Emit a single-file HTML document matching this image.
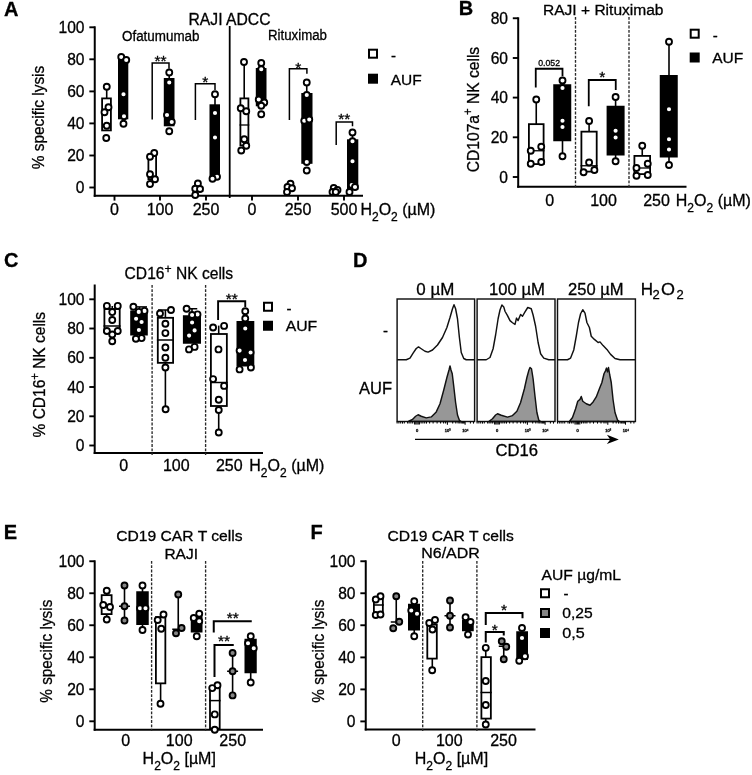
<!DOCTYPE html>
<html><head><meta charset="utf-8"><title>Figure</title>
<style>html,body{margin:0;padding:0;background:#fff}svg{display:block;filter:grayscale(1) blur(0.35px)}text{font-family:"Liberation Sans",sans-serif;fill:#000;stroke:#000;stroke-width:0.3px}</style>
</head><body>
<svg width="752" height="775" viewBox="0 0 752 775">
<rect x="0" y="0" width="752" height="775" fill="#fff"/>
<text x="3.9" y="15.5" font-size="20" text-anchor="start" font-weight="bold" >A</text>
<text x="229.5" y="25" font-size="16" text-anchor="middle" font-weight="normal" textLength="82" lengthAdjust="spacingAndGlyphs" >RAJI ADCC</text>
<text x="122" y="40.6" font-size="14" text-anchor="start" font-weight="normal" textLength="77.5" lengthAdjust="spacingAndGlyphs" >Ofatumumab</text>
<text x="268" y="40.4" font-size="14" text-anchor="start" font-weight="normal" textLength="59" lengthAdjust="spacingAndGlyphs" >Rituximab</text>
<line x1="94.75" y1="26.3" x2="94.75" y2="196.8" stroke="#000" stroke-width="2" stroke-linecap="butt"/>
<line x1="93.75" y1="195.8" x2="363" y2="195.8" stroke="#000" stroke-width="2" stroke-linecap="butt"/>
<line x1="89.35" y1="27.3" x2="94.75" y2="27.3" stroke="#000" stroke-width="1.9" stroke-linecap="butt"/>
<text x="84.55" y="32.8" font-size="15.6" text-anchor="end" font-weight="normal" >100</text>
<line x1="89.35" y1="59.3" x2="94.75" y2="59.3" stroke="#000" stroke-width="1.9" stroke-linecap="butt"/>
<text x="84.55" y="64.8" font-size="15.6" text-anchor="end" font-weight="normal" >80</text>
<line x1="89.35" y1="91.4" x2="94.75" y2="91.4" stroke="#000" stroke-width="1.9" stroke-linecap="butt"/>
<text x="84.55" y="96.9" font-size="15.6" text-anchor="end" font-weight="normal" >60</text>
<line x1="89.35" y1="123.4" x2="94.75" y2="123.4" stroke="#000" stroke-width="1.9" stroke-linecap="butt"/>
<text x="84.55" y="128.9" font-size="15.6" text-anchor="end" font-weight="normal" >40</text>
<line x1="89.35" y1="155.5" x2="94.75" y2="155.5" stroke="#000" stroke-width="1.9" stroke-linecap="butt"/>
<text x="84.55" y="161.0" font-size="15.6" text-anchor="end" font-weight="normal" >20</text>
<line x1="89.35" y1="187.5" x2="94.75" y2="187.5" stroke="#000" stroke-width="1.9" stroke-linecap="butt"/>
<text x="84.55" y="193.0" font-size="15.6" text-anchor="end" font-weight="normal" >0</text>
<line x1="114.5" y1="195.8" x2="114.5" y2="200.6" stroke="#000" stroke-width="1.9" stroke-linecap="butt"/>
<text x="114.5" y="215.1" font-size="16" text-anchor="middle" font-weight="normal" >0</text>
<line x1="160" y1="195.8" x2="160" y2="200.6" stroke="#000" stroke-width="1.9" stroke-linecap="butt"/>
<text x="160" y="215.1" font-size="16" text-anchor="middle" font-weight="normal" >100</text>
<line x1="206" y1="195.8" x2="206" y2="200.6" stroke="#000" stroke-width="1.9" stroke-linecap="butt"/>
<text x="206" y="215.1" font-size="16" text-anchor="middle" font-weight="normal" >250</text>
<line x1="252" y1="195.8" x2="252" y2="200.6" stroke="#000" stroke-width="1.9" stroke-linecap="butt"/>
<text x="252" y="215.1" font-size="16" text-anchor="middle" font-weight="normal" >0</text>
<line x1="298" y1="195.8" x2="298" y2="200.6" stroke="#000" stroke-width="1.9" stroke-linecap="butt"/>
<text x="298" y="215.1" font-size="16" text-anchor="middle" font-weight="normal" >250</text>
<line x1="344" y1="195.8" x2="344" y2="200.6" stroke="#000" stroke-width="1.9" stroke-linecap="butt"/>
<text x="344" y="215.1" font-size="16" text-anchor="middle" font-weight="normal" >500</text>
<line x1="229.7" y1="26" x2="229.7" y2="198" stroke="#000" stroke-width="1.8" stroke-linecap="butt"/>
<text transform="translate(43.5,117.5) rotate(-90)" font-size="17" text-anchor="middle" textLength="103.5" lengthAdjust="spacingAndGlyphs">% specific lysis</text>
<text x="360.4" y="215.2" font-size="16">H<tspan dy="5.5" font-size="12">2</tspan><tspan dy="-5.5">O</tspan><tspan dy="5.5" font-size="12">2</tspan><tspan dy="-5.5"> (µM)</tspan></text>
<rect x="369.0" y="49.7" width="8" height="8.0" fill="#fff" stroke="#000" stroke-width="2"/>
<rect x="369.0" y="74.7" width="8" height="8.0" fill="#000" stroke="#000" stroke-width="2"/>
<text x="391" y="61" font-size="15" text-anchor="start" font-weight="normal" >-</text>
<text x="390.7" y="84.5" font-size="15" text-anchor="start" font-weight="normal" textLength="31" lengthAdjust="spacingAndGlyphs" >AUF</text>
<line x1="106.7" y1="87" x2="106.7" y2="98" stroke="#000" stroke-width="1.6" stroke-linecap="butt"/>
<rect x="102.10000000000001" y="98.4" width="8.799999999999994" height="32.000000000000014" fill="#fff" stroke="#000" stroke-width="1.8"/>
<circle cx="106.75" cy="86.75" r="3.0" fill="#fff" stroke="#000" stroke-width="1.85"/>
<circle cx="108.5" cy="107.25" r="3.0" fill="#fff" stroke="#000" stroke-width="1.85"/>
<circle cx="104.5" cy="112.25" r="3.0" fill="#fff" stroke="#000" stroke-width="1.85"/>
<circle cx="106.75" cy="125.75" r="3.0" fill="#fff" stroke="#000" stroke-width="1.85"/>
<circle cx="106.25" cy="138" r="3.0" fill="#fff" stroke="#000" stroke-width="1.85"/>
<rect x="118.9" y="59.6" width="8.50000000000001" height="58.8" fill="#000" stroke="#000" stroke-width="1.8"/>
<circle cx="121.25" cy="57" r="3.0" fill="#fff" stroke="#000" stroke-width="1.85"/>
<circle cx="126.25" cy="60" r="3.0" fill="#fff" stroke="#000" stroke-width="1.85"/>
<circle cx="123.5" cy="94.25" r="3.0" fill="#fff" stroke="#000" stroke-width="1.85"/>
<circle cx="124" cy="116.25" r="3.0" fill="#fff" stroke="#000" stroke-width="1.85"/>
<circle cx="123.5" cy="123.75" r="3.0" fill="#fff" stroke="#000" stroke-width="1.85"/>
<rect x="148.4" y="155.9" width="7.7" height="23.2" fill="#fff" stroke="#000" stroke-width="1.8"/>
<circle cx="154.25" cy="153" r="3.0" fill="#fff" stroke="#000" stroke-width="1.85"/>
<circle cx="150" cy="156.75" r="3.0" fill="#fff" stroke="#000" stroke-width="1.85"/>
<circle cx="150" cy="174.25" r="3.0" fill="#fff" stroke="#000" stroke-width="1.85"/>
<circle cx="155" cy="179.25" r="3.0" fill="#fff" stroke="#000" stroke-width="1.85"/>
<circle cx="150" cy="184" r="3.0" fill="#fff" stroke="#000" stroke-width="1.85"/>
<line x1="169.2" y1="72.5" x2="169.2" y2="79" stroke="#000" stroke-width="1.6" stroke-linecap="butt"/>
<rect x="164.70000000000002" y="78.9" width="8.899999999999988" height="46.5" fill="#000" stroke="#000" stroke-width="1.8"/>
<circle cx="169.25" cy="72.5" r="3.0" fill="#fff" stroke="#000" stroke-width="1.85"/>
<circle cx="169.25" cy="82.5" r="3.0" fill="#fff" stroke="#000" stroke-width="1.85"/>
<circle cx="167" cy="115" r="3.0" fill="#fff" stroke="#000" stroke-width="1.85"/>
<circle cx="171.75" cy="122" r="3.0" fill="#fff" stroke="#000" stroke-width="1.85"/>
<circle cx="169.25" cy="131.25" r="3.0" fill="#fff" stroke="#000" stroke-width="1.85"/>
<polyline points="152.2,119.5 152.2,63.1 169,63.1 169,68.8" fill="none" stroke="#000" stroke-width="1.5" stroke-linejoin="miter"/>
<text x="160.6" y="66.2" font-size="15.5" text-anchor="middle" font-weight="normal" >**</text>
<rect x="194.70000000000002" y="187.4" width="7.7" height="3.7" fill="#fff" stroke="#000" stroke-width="1.8"/>
<circle cx="197.9" cy="183.5" r="3.0" fill="#fff" stroke="#000" stroke-width="1.85"/>
<circle cx="195.25" cy="188.75" r="3.0" fill="#fff" stroke="#000" stroke-width="1.85"/>
<circle cx="200" cy="189" r="3.0" fill="#fff" stroke="#000" stroke-width="1.85"/>
<circle cx="195.25" cy="195" r="3.0" fill="#fff" stroke="#000" stroke-width="1.85"/>
<line x1="215" y1="94.25" x2="215" y2="105" stroke="#000" stroke-width="1.6" stroke-linecap="butt"/>
<rect x="210.4" y="105.2" width="8.7" height="73.20000000000002" fill="#000" stroke="#000" stroke-width="1.8"/>
<circle cx="215" cy="94.25" r="3.0" fill="#fff" stroke="#000" stroke-width="1.85"/>
<circle cx="215" cy="113" r="3.0" fill="#fff" stroke="#000" stroke-width="1.85"/>
<circle cx="215" cy="137.5" r="3.0" fill="#fff" stroke="#000" stroke-width="1.85"/>
<circle cx="217" cy="176.75" r="3.0" fill="#fff" stroke="#000" stroke-width="1.85"/>
<circle cx="212.5" cy="178.75" r="3.0" fill="#fff" stroke="#000" stroke-width="1.85"/>
<polyline points="195.4,120 195.4,83.75 215,83.75 215,90" fill="none" stroke="#000" stroke-width="1.5" stroke-linejoin="miter"/>
<text x="205.2" y="87.1" font-size="15.5" text-anchor="middle" font-weight="normal" >*</text>
<line x1="244.2" y1="62.5" x2="244.2" y2="98" stroke="#000" stroke-width="1.6" stroke-linecap="butt"/>
<rect x="240.4" y="98.4" width="8.00000000000001" height="47.000000000000014" fill="#fff" stroke="#000" stroke-width="1.8"/>
<line x1="239.5" y1="125" x2="249.3" y2="125" stroke="#000" stroke-width="1.3" stroke-linecap="butt"/>
<circle cx="244" cy="62" r="3.0" fill="#fff" stroke="#000" stroke-width="1.85"/>
<circle cx="240.75" cy="108.25" r="3.0" fill="#fff" stroke="#000" stroke-width="1.85"/>
<circle cx="246.25" cy="111.25" r="3.0" fill="#fff" stroke="#000" stroke-width="1.85"/>
<circle cx="244.25" cy="139.25" r="3.0" fill="#fff" stroke="#000" stroke-width="1.85"/>
<circle cx="246.25" cy="145.75" r="3.0" fill="#fff" stroke="#000" stroke-width="1.85"/>
<circle cx="241.25" cy="150.5" r="3.0" fill="#fff" stroke="#000" stroke-width="1.85"/>
<line x1="261.2" y1="63" x2="261.2" y2="69" stroke="#000" stroke-width="1.6" stroke-linecap="butt"/>
<rect x="256.7" y="68.9" width="8.899999999999988" height="36.5" fill="#000" stroke="#000" stroke-width="1.8"/>
<circle cx="261.25" cy="63" r="3.0" fill="#fff" stroke="#000" stroke-width="1.85"/>
<circle cx="261.25" cy="69.25" r="3.0" fill="#fff" stroke="#000" stroke-width="1.85"/>
<circle cx="258.75" cy="99.5" r="3.0" fill="#fff" stroke="#000" stroke-width="1.85"/>
<circle cx="264.25" cy="102.5" r="3.0" fill="#fff" stroke="#000" stroke-width="1.85"/>
<circle cx="261.25" cy="105.75" r="3.0" fill="#fff" stroke="#000" stroke-width="1.85"/>
<circle cx="261.25" cy="114.25" r="3.0" fill="#fff" stroke="#000" stroke-width="1.85"/>
<circle cx="290.5" cy="183.75" r="3.0" fill="#fff" stroke="#000" stroke-width="1.85"/>
<circle cx="287.5" cy="187" r="3.0" fill="#fff" stroke="#000" stroke-width="1.85"/>
<circle cx="292" cy="188.25" r="3.0" fill="#fff" stroke="#000" stroke-width="1.85"/>
<circle cx="287" cy="192" r="3.0" fill="#fff" stroke="#000" stroke-width="1.85"/>
<line x1="306.75" y1="82.5" x2="306.75" y2="94" stroke="#000" stroke-width="1.6" stroke-linecap="butt"/>
<rect x="302.2" y="93.9" width="9.399999999999988" height="69.00000000000001" fill="#000" stroke="#000" stroke-width="1.8"/>
<circle cx="306.75" cy="82.5" r="3.0" fill="#fff" stroke="#000" stroke-width="1.85"/>
<circle cx="306.75" cy="95" r="3.0" fill="#fff" stroke="#000" stroke-width="1.85"/>
<circle cx="304.25" cy="120.75" r="3.0" fill="#fff" stroke="#000" stroke-width="1.85"/>
<circle cx="309.25" cy="119.5" r="3.0" fill="#fff" stroke="#000" stroke-width="1.85"/>
<circle cx="306.75" cy="162" r="3.0" fill="#fff" stroke="#000" stroke-width="1.85"/>
<circle cx="306.75" cy="170.5" r="3.0" fill="#fff" stroke="#000" stroke-width="1.85"/>
<polyline points="289.4,120 289.4,68.75 306.9,68.75 306.9,73.8" fill="none" stroke="#000" stroke-width="1.5" stroke-linejoin="miter"/>
<text x="298.15" y="72.8" font-size="15.5" text-anchor="middle" font-weight="normal" >*</text>
<circle cx="333.75" cy="188" r="3.0" fill="#fff" stroke="#000" stroke-width="1.85"/>
<circle cx="337.5" cy="190" r="3.0" fill="#fff" stroke="#000" stroke-width="1.85"/>
<circle cx="332.5" cy="192" r="3.0" fill="#fff" stroke="#000" stroke-width="1.85"/>
<circle cx="335.75" cy="192" r="3.0" fill="#fff" stroke="#000" stroke-width="1.85"/>
<line x1="352.5" y1="132.5" x2="352.5" y2="140" stroke="#000" stroke-width="1.6" stroke-linecap="butt"/>
<rect x="347.9" y="140.20000000000002" width="9.50000000000001" height="48.89999999999999" fill="#000" stroke="#000" stroke-width="1.8"/>
<circle cx="352.5" cy="132.5" r="3.0" fill="#fff" stroke="#000" stroke-width="1.85"/>
<circle cx="352.5" cy="141.25" r="3.0" fill="#fff" stroke="#000" stroke-width="1.85"/>
<circle cx="352.5" cy="161.25" r="3.0" fill="#fff" stroke="#000" stroke-width="1.85"/>
<circle cx="351.75" cy="185" r="3.0" fill="#fff" stroke="#000" stroke-width="1.85"/>
<circle cx="355" cy="187" r="3.0" fill="#fff" stroke="#000" stroke-width="1.85"/>
<circle cx="349.5" cy="192" r="3.0" fill="#fff" stroke="#000" stroke-width="1.85"/>
<polyline points="336.2,145 336.2,121.9 352.5,121.9 352.5,126.3" fill="none" stroke="#000" stroke-width="1.5" stroke-linejoin="miter"/>
<text x="344.35" y="123.7" font-size="15.5" text-anchor="middle" font-weight="normal" >**</text>
<text x="458.8" y="15.1" font-size="20" text-anchor="start" font-weight="bold" >B</text>
<text x="543" y="15.1" font-size="15.5" text-anchor="start" font-weight="normal" textLength="120.5" lengthAdjust="spacingAndGlyphs" >RAJI + Rituximab</text>
<line x1="518.2" y1="17.3" x2="518.2" y2="187.7" stroke="#000" stroke-width="2" stroke-linecap="butt"/>
<line x1="517.2" y1="186.75" x2="686.5" y2="186.75" stroke="#000" stroke-width="2" stroke-linecap="butt"/>
<line x1="512.8000000000001" y1="18.25" x2="518.2" y2="18.25" stroke="#000" stroke-width="1.9" stroke-linecap="butt"/>
<text x="508.00000000000006" y="23.75" font-size="15.6" text-anchor="end" font-weight="normal" >80</text>
<line x1="512.8000000000001" y1="58" x2="518.2" y2="58" stroke="#000" stroke-width="1.9" stroke-linecap="butt"/>
<text x="508.00000000000006" y="63.5" font-size="15.6" text-anchor="end" font-weight="normal" >60</text>
<line x1="512.8000000000001" y1="97.6" x2="518.2" y2="97.6" stroke="#000" stroke-width="1.9" stroke-linecap="butt"/>
<text x="508.00000000000006" y="103.1" font-size="15.6" text-anchor="end" font-weight="normal" >40</text>
<line x1="512.8000000000001" y1="137.3" x2="518.2" y2="137.3" stroke="#000" stroke-width="1.9" stroke-linecap="butt"/>
<text x="508.00000000000006" y="142.8" font-size="15.6" text-anchor="end" font-weight="normal" >20</text>
<line x1="512.8000000000001" y1="177" x2="518.2" y2="177" stroke="#000" stroke-width="1.9" stroke-linecap="butt"/>
<text x="508.00000000000006" y="182.5" font-size="15.6" text-anchor="end" font-weight="normal" >0</text>
<text x="549.6" y="206.3" font-size="16" text-anchor="middle" font-weight="normal" >0</text>
<text x="603.5" y="206.3" font-size="16" text-anchor="middle" font-weight="normal" >100</text>
<text x="656.5" y="206.3" font-size="16" text-anchor="middle" font-weight="normal" >250</text>
<text x="675.8" y="206.3" font-size="16">H<tspan dy="5.5" font-size="12">2</tspan><tspan dy="-5.5">O</tspan><tspan dy="5.5" font-size="12">2</tspan><tspan dy="-5.5"> (µM)</tspan></text>
<text transform="translate(478.75,109.5) rotate(-90) scale(0.945,1)" font-size="16.5" text-anchor="middle">CD107a<tspan dy="-6.5" font-size="12">+</tspan><tspan dy="6.5"> NK cells</tspan></text>
<line x1="575.5" y1="17" x2="575.5" y2="189" stroke="#2a2a2a" stroke-width="1.35" stroke-dasharray="2.8 1.5"/>
<line x1="629" y1="17" x2="629" y2="189" stroke="#2a2a2a" stroke-width="1.35" stroke-dasharray="2.8 1.5"/>
<rect x="690.7" y="29.7" width="8.0" height="8.000000000000004" fill="#fff" stroke="#000" stroke-width="2"/>
<rect x="690.7" y="53.5" width="8.0" height="8.0" fill="#000" stroke="#000" stroke-width="2"/>
<text x="712.7" y="40.5" font-size="15" text-anchor="start" font-weight="normal" >-</text>
<text x="712.2" y="62.7" font-size="15" text-anchor="start" font-weight="normal" textLength="31" lengthAdjust="spacingAndGlyphs" >AUF</text>
<line x1="536.25" y1="100" x2="536.25" y2="124" stroke="#000" stroke-width="1.6" stroke-linecap="butt"/>
<rect x="528.9" y="124.15" width="14.7" height="39.95" fill="#fff" stroke="#000" stroke-width="1.8"/>
<line x1="528" y1="150.75" x2="544.5" y2="150.75" stroke="#000" stroke-width="1.3" stroke-linecap="butt"/>
<circle cx="536.25" cy="99.5" r="3.0" fill="#fff" stroke="#000" stroke-width="1.85"/>
<circle cx="541.25" cy="146.75" r="3.0" fill="#fff" stroke="#000" stroke-width="1.85"/>
<circle cx="530.75" cy="150.75" r="3.0" fill="#fff" stroke="#000" stroke-width="1.85"/>
<circle cx="541.25" cy="162" r="3.0" fill="#fff" stroke="#000" stroke-width="1.85"/>
<circle cx="530.75" cy="163.75" r="3.0" fill="#fff" stroke="#000" stroke-width="1.85"/>
<line x1="562.5" y1="80.5" x2="562.5" y2="156.25" stroke="#000" stroke-width="1.6" stroke-linecap="butt"/>
<rect x="554.15" y="85.15" width="16.2" height="55.2" fill="#000" stroke="#000" stroke-width="1.8"/>
<circle cx="562.5" cy="80.5" r="3.0" fill="#fff" stroke="#000" stroke-width="1.85"/>
<circle cx="562.5" cy="88" r="3.0" fill="#fff" stroke="#000" stroke-width="1.85"/>
<circle cx="562.5" cy="120.75" r="3.0" fill="#fff" stroke="#000" stroke-width="1.85"/>
<circle cx="562.5" cy="127" r="3.0" fill="#fff" stroke="#000" stroke-width="1.85"/>
<circle cx="562.5" cy="156.25" r="3.0" fill="#fff" stroke="#000" stroke-width="1.85"/>
<polyline points="535.75,87.5 535.75,68.75 562.5,68.75 562.5,76.25" fill="none" stroke="#000" stroke-width="1.8" stroke-linejoin="miter"/>
<text x="549.125" y="65.5" font-size="8.7" text-anchor="middle" font-weight="normal" >0.052</text>
<line x1="589.1" y1="121" x2="589.1" y2="131" stroke="#000" stroke-width="1.6" stroke-linecap="butt"/>
<rect x="581.4" y="131.65" width="15.300000000000022" height="39.95" fill="#fff" stroke="#000" stroke-width="1.8"/>
<line x1="580.5" y1="165.75" x2="597.6" y2="165.75" stroke="#000" stroke-width="1.3" stroke-linecap="butt"/>
<circle cx="589.1" cy="121" r="3.0" fill="#fff" stroke="#000" stroke-width="1.85"/>
<circle cx="589.1" cy="162.5" r="3.0" fill="#fff" stroke="#000" stroke-width="1.85"/>
<circle cx="594.4" cy="170" r="3.0" fill="#fff" stroke="#000" stroke-width="1.85"/>
<circle cx="583.6" cy="172.2" r="3.0" fill="#fff" stroke="#000" stroke-width="1.85"/>
<line x1="615.6" y1="97" x2="615.6" y2="161.25" stroke="#000" stroke-width="1.6" stroke-linecap="butt"/>
<rect x="607.5" y="106.65" width="16.2" height="47.95" fill="#000" stroke="#000" stroke-width="1.8"/>
<circle cx="615.6" cy="97" r="3.0" fill="#fff" stroke="#000" stroke-width="1.85"/>
<circle cx="615.6" cy="130.75" r="3.0" fill="#fff" stroke="#000" stroke-width="1.85"/>
<circle cx="615.6" cy="137.5" r="3.0" fill="#fff" stroke="#000" stroke-width="1.85"/>
<circle cx="615.6" cy="161.25" r="3.0" fill="#fff" stroke="#000" stroke-width="1.85"/>
<polyline points="588.75,106.25 588.75,80 615.75,80 615.75,90" fill="none" stroke="#000" stroke-width="1.8" stroke-linejoin="miter"/>
<text x="602.25" y="82" font-size="15.5" text-anchor="middle" font-weight="normal" >*</text>
<line x1="642.25" y1="145.75" x2="642.25" y2="156" stroke="#000" stroke-width="1.6" stroke-linecap="butt"/>
<rect x="634.4" y="155.9" width="15.7" height="18.2" fill="#fff" stroke="#000" stroke-width="1.8"/>
<line x1="633.5" y1="168" x2="651" y2="168" stroke="#000" stroke-width="1.3" stroke-linecap="butt"/>
<circle cx="642.25" cy="145.75" r="3.0" fill="#fff" stroke="#000" stroke-width="1.85"/>
<circle cx="647.75" cy="163.75" r="3.0" fill="#fff" stroke="#000" stroke-width="1.85"/>
<circle cx="636.5" cy="168" r="3.0" fill="#fff" stroke="#000" stroke-width="1.85"/>
<circle cx="647.75" cy="175" r="3.0" fill="#fff" stroke="#000" stroke-width="1.85"/>
<circle cx="636.5" cy="175.75" r="3.0" fill="#fff" stroke="#000" stroke-width="1.85"/>
<line x1="669" y1="41.75" x2="669" y2="165" stroke="#000" stroke-width="1.6" stroke-linecap="butt"/>
<rect x="660.65" y="75.9" width="16.2" height="80.7" fill="#000" stroke="#000" stroke-width="1.8"/>
<circle cx="669" cy="41.75" r="3.0" fill="#fff" stroke="#000" stroke-width="1.85"/>
<circle cx="669" cy="109.25" r="3.0" fill="#fff" stroke="#000" stroke-width="1.85"/>
<circle cx="669" cy="139.25" r="3.0" fill="#fff" stroke="#000" stroke-width="1.85"/>
<circle cx="669" cy="149.5" r="3.0" fill="#fff" stroke="#000" stroke-width="1.85"/>
<circle cx="669" cy="165" r="3.0" fill="#fff" stroke="#000" stroke-width="1.85"/>
<text x="3.9" y="267.4" font-size="20" text-anchor="start" font-weight="bold" >C</text>
<text transform="translate(124.6,279.1) scale(0.975,1)" font-size="16">CD16<tspan dy="-6.3" font-size="12.5">+</tspan><tspan dy="6.3"> NK cells</tspan></text>
<line x1="94.7" y1="284.5" x2="94.7" y2="454" stroke="#000" stroke-width="2" stroke-linecap="butt"/>
<line x1="93.7" y1="453" x2="263" y2="453" stroke="#000" stroke-width="2" stroke-linecap="butt"/>
<line x1="89.3" y1="299.3" x2="94.7" y2="299.3" stroke="#000" stroke-width="1.9" stroke-linecap="butt"/>
<text x="84.5" y="304.8" font-size="15.6" text-anchor="end" font-weight="normal" >100</text>
<line x1="89.3" y1="328.5" x2="94.7" y2="328.5" stroke="#000" stroke-width="1.9" stroke-linecap="butt"/>
<text x="84.5" y="334.0" font-size="15.6" text-anchor="end" font-weight="normal" >80</text>
<line x1="89.3" y1="357.8" x2="94.7" y2="357.8" stroke="#000" stroke-width="1.9" stroke-linecap="butt"/>
<text x="84.5" y="363.3" font-size="15.6" text-anchor="end" font-weight="normal" >60</text>
<line x1="89.3" y1="387" x2="94.7" y2="387" stroke="#000" stroke-width="1.9" stroke-linecap="butt"/>
<text x="84.5" y="392.5" font-size="15.6" text-anchor="end" font-weight="normal" >40</text>
<line x1="89.3" y1="416.3" x2="94.7" y2="416.3" stroke="#000" stroke-width="1.9" stroke-linecap="butt"/>
<text x="84.5" y="421.8" font-size="15.6" text-anchor="end" font-weight="normal" >20</text>
<line x1="89.3" y1="445.5" x2="94.7" y2="445.5" stroke="#000" stroke-width="1.9" stroke-linecap="butt"/>
<text x="84.5" y="451.0" font-size="15.6" text-anchor="end" font-weight="normal" >0</text>
<text x="123.75" y="471.3" font-size="16" text-anchor="middle" font-weight="normal" >0</text>
<text x="176.25" y="471.3" font-size="16" text-anchor="middle" font-weight="normal" >100</text>
<text x="229.25" y="471.3" font-size="16" text-anchor="middle" font-weight="normal" >250</text>
<text x="249.3" y="471.3" font-size="16">H<tspan dy="5.5" font-size="12">2</tspan><tspan dy="-5.5">O</tspan><tspan dy="5.5" font-size="12">2</tspan><tspan dy="-5.5"> (µM)</tspan></text>
<text transform="translate(45,374.7) rotate(-90) scale(0.94,1)" font-size="16.5" text-anchor="middle">% CD16<tspan dy="-6.5" font-size="12">+</tspan><tspan dy="6.5"> NK cells</tspan></text>
<line x1="152.1" y1="285" x2="152.1" y2="455" stroke="#2a2a2a" stroke-width="1.35" stroke-dasharray="2.8 1.5"/>
<line x1="205.6" y1="285" x2="205.6" y2="455" stroke="#2a2a2a" stroke-width="1.35" stroke-dasharray="2.8 1.5"/>
<rect x="264.0" y="302.75" width="8" height="8.0" fill="#fff" stroke="#000" stroke-width="2"/>
<rect x="264.0" y="321.75" width="8" height="8.0" fill="#000" stroke="#000" stroke-width="2"/>
<text x="286.5" y="313.5" font-size="15" text-anchor="start" font-weight="normal" >-</text>
<text x="285.7" y="331.3" font-size="15" text-anchor="start" font-weight="normal" textLength="31.5" lengthAdjust="spacingAndGlyphs" >AUF</text>
<line x1="112.25" y1="306" x2="112.25" y2="309" stroke="#000" stroke-width="1.6" stroke-linecap="butt"/>
<line x1="112.25" y1="332" x2="112.25" y2="341" stroke="#000" stroke-width="1.6" stroke-linecap="butt"/>
<rect x="104.4" y="309.0" width="15.299999999999994" height="23.099999999999977" fill="#fff" stroke="#000" stroke-width="1.8"/>
<line x1="103.5" y1="326" x2="120.6" y2="326" stroke="#000" stroke-width="1.5" stroke-linecap="butt"/>
<circle cx="106.9" cy="305.9" r="3.0" fill="#fff" stroke="#000" stroke-width="1.85"/>
<circle cx="117.75" cy="305.9" r="3.0" fill="#fff" stroke="#000" stroke-width="1.85"/>
<circle cx="112.25" cy="312.1" r="3.0" fill="#fff" stroke="#000" stroke-width="1.85"/>
<circle cx="112.25" cy="320" r="3.0" fill="#fff" stroke="#000" stroke-width="1.85"/>
<circle cx="106.9" cy="331" r="3.0" fill="#fff" stroke="#000" stroke-width="1.85"/>
<circle cx="117.75" cy="331" r="3.0" fill="#fff" stroke="#000" stroke-width="1.85"/>
<circle cx="112.25" cy="334.5" r="3.0" fill="#fff" stroke="#000" stroke-width="1.85"/>
<circle cx="112.25" cy="341.25" r="3.0" fill="#fff" stroke="#000" stroke-width="1.85"/>
<line x1="139.5" y1="306.9" x2="139.5" y2="311" stroke="#000" stroke-width="1.6" stroke-linecap="butt"/>
<line x1="137" y1="306.9" x2="147" y2="306.9" stroke="#000" stroke-width="1.5" stroke-linecap="butt"/>
<rect x="131.1" y="311.4" width="15.800000000000022" height="23.2" fill="#000" stroke="#000" stroke-width="1.8"/>
<circle cx="133.4" cy="306.75" r="3.0" fill="#fff" stroke="#000" stroke-width="1.85"/>
<circle cx="144.5" cy="310.9" r="3.0" fill="#fff" stroke="#000" stroke-width="1.85"/>
<circle cx="138.75" cy="311.9" r="3.0" fill="#fff" stroke="#000" stroke-width="1.85"/>
<circle cx="136.1" cy="318.75" r="3.0" fill="#fff" stroke="#000" stroke-width="1.85"/>
<circle cx="141.6" cy="322" r="3.0" fill="#fff" stroke="#000" stroke-width="1.85"/>
<circle cx="138.9" cy="330" r="3.0" fill="#fff" stroke="#000" stroke-width="1.85"/>
<circle cx="141.6" cy="338.1" r="3.0" fill="#fff" stroke="#000" stroke-width="1.85"/>
<circle cx="135.9" cy="338.75" r="3.0" fill="#fff" stroke="#000" stroke-width="1.85"/>
<line x1="165.4" y1="310" x2="165.4" y2="317" stroke="#000" stroke-width="1.6" stroke-linecap="butt"/>
<line x1="165.4" y1="363" x2="165.4" y2="409.25" stroke="#000" stroke-width="1.6" stroke-linecap="butt"/>
<line x1="158" y1="310" x2="171" y2="310" stroke="#000" stroke-width="1.5" stroke-linecap="butt"/>
<rect x="157.8" y="317.79999999999995" width="15.299999999999994" height="45.050000000000026" fill="#fff" stroke="#000" stroke-width="1.8"/>
<line x1="156.9" y1="340" x2="174" y2="340" stroke="#000" stroke-width="1.5" stroke-linecap="butt"/>
<circle cx="171" cy="310" r="3.0" fill="#fff" stroke="#000" stroke-width="1.85"/>
<circle cx="160" cy="313.5" r="3.0" fill="#fff" stroke="#000" stroke-width="1.85"/>
<circle cx="165.4" cy="323.75" r="3.0" fill="#fff" stroke="#000" stroke-width="1.85"/>
<circle cx="165.4" cy="333.1" r="3.0" fill="#fff" stroke="#000" stroke-width="1.85"/>
<circle cx="165.4" cy="347.5" r="3.0" fill="#fff" stroke="#000" stroke-width="1.85"/>
<circle cx="165.4" cy="357.75" r="3.0" fill="#fff" stroke="#000" stroke-width="1.85"/>
<circle cx="165.4" cy="367.5" r="3.0" fill="#fff" stroke="#000" stroke-width="1.85"/>
<circle cx="165.6" cy="409.25" r="3.0" fill="#fff" stroke="#000" stroke-width="1.85"/>
<line x1="192" y1="308.75" x2="192" y2="316" stroke="#000" stroke-width="1.6" stroke-linecap="butt"/>
<line x1="187" y1="308.75" x2="197.25" y2="308.75" stroke="#000" stroke-width="1.5" stroke-linecap="butt"/>
<rect x="183.8" y="316.15" width="16.299999999999994" height="26.7" fill="#000" stroke="#000" stroke-width="1.8"/>
<circle cx="186.6" cy="308.75" r="3.0" fill="#fff" stroke="#000" stroke-width="1.85"/>
<circle cx="197.5" cy="314.4" r="3.0" fill="#fff" stroke="#000" stroke-width="1.85"/>
<circle cx="192.1" cy="315" r="3.0" fill="#fff" stroke="#000" stroke-width="1.85"/>
<circle cx="192.1" cy="322.5" r="3.0" fill="#fff" stroke="#000" stroke-width="1.85"/>
<circle cx="194.6" cy="330.4" r="3.0" fill="#fff" stroke="#000" stroke-width="1.85"/>
<circle cx="189.1" cy="335.6" r="3.0" fill="#fff" stroke="#000" stroke-width="1.85"/>
<circle cx="194.6" cy="346.9" r="3.0" fill="#fff" stroke="#000" stroke-width="1.85"/>
<circle cx="189" cy="349.4" r="3.0" fill="#fff" stroke="#000" stroke-width="1.85"/>
<line x1="218.7" y1="325.6" x2="218.7" y2="334" stroke="#000" stroke-width="1.6" stroke-linecap="butt"/>
<line x1="218.7" y1="406" x2="218.7" y2="432.5" stroke="#000" stroke-width="1.6" stroke-linecap="butt"/>
<rect x="210.9" y="334.0" width="15.95" height="71.99999999999996" fill="#fff" stroke="#000" stroke-width="1.8"/>
<line x1="210" y1="382.5" x2="227.75" y2="382.5" stroke="#000" stroke-width="1.5" stroke-linecap="butt"/>
<circle cx="213.1" cy="327.5" r="3.0" fill="#fff" stroke="#000" stroke-width="1.85"/>
<circle cx="224.1" cy="325.9" r="3.0" fill="#fff" stroke="#000" stroke-width="1.85"/>
<circle cx="218.5" cy="349.4" r="3.0" fill="#fff" stroke="#000" stroke-width="1.85"/>
<circle cx="213.1" cy="379.1" r="3.0" fill="#fff" stroke="#000" stroke-width="1.85"/>
<circle cx="224.1" cy="385.9" r="3.0" fill="#fff" stroke="#000" stroke-width="1.85"/>
<circle cx="218.75" cy="399.75" r="3.0" fill="#fff" stroke="#000" stroke-width="1.85"/>
<circle cx="218.75" cy="410" r="3.0" fill="#fff" stroke="#000" stroke-width="1.85"/>
<circle cx="218.75" cy="432.5" r="3.0" fill="#fff" stroke="#000" stroke-width="1.85"/>
<rect x="237.4" y="321.9" width="16.00000000000001" height="43.7" fill="#000" stroke="#000" stroke-width="1.8"/>
<circle cx="245.25" cy="311.25" r="3.0" fill="#fff" stroke="#000" stroke-width="1.85"/>
<circle cx="245.25" cy="318.5" r="3.0" fill="#fff" stroke="#000" stroke-width="1.85"/>
<circle cx="245.25" cy="328.5" r="3.0" fill="#fff" stroke="#000" stroke-width="1.85"/>
<circle cx="239.6" cy="350.6" r="3.0" fill="#fff" stroke="#000" stroke-width="1.85"/>
<circle cx="250.6" cy="352.5" r="3.0" fill="#fff" stroke="#000" stroke-width="1.85"/>
<circle cx="245" cy="360" r="3.0" fill="#fff" stroke="#000" stroke-width="1.85"/>
<circle cx="239.6" cy="369.4" r="3.0" fill="#fff" stroke="#000" stroke-width="1.85"/>
<circle cx="250.9" cy="367.5" r="3.0" fill="#fff" stroke="#000" stroke-width="1.85"/>
<polyline points="218.1,320 218.1,301.25 245.25,301.25 245.25,307" fill="none" stroke="#000" stroke-width="1.9" stroke-linejoin="miter"/>
<text x="231.675" y="304" font-size="15.5" text-anchor="middle" font-weight="normal" >**</text>
<text x="353.1" y="267.4" font-size="20" text-anchor="start" font-weight="bold" >D</text>
<text x="416.3" y="294.5" font-size="16.3" text-anchor="start" font-weight="normal" textLength="38" lengthAdjust="spacingAndGlyphs" >0 µM</text>
<text x="489" y="294.5" font-size="16.3" text-anchor="start" font-weight="normal" textLength="56" lengthAdjust="spacingAndGlyphs" >100 µM</text>
<text x="568" y="294.5" font-size="16.3" text-anchor="start" font-weight="normal" textLength="55.5" lengthAdjust="spacingAndGlyphs" >250 µM</text>
<text x="640.7" y="294.5" font-size="17" text-anchor="start" font-weight="normal" >H</text>
<text x="652.6" y="298.9" font-size="13" text-anchor="start" font-weight="normal" >2</text>
<text x="661" y="294.5" font-size="17" text-anchor="start" font-weight="normal" textLength="14" lengthAdjust="spacingAndGlyphs" >O</text>
<text x="676.6" y="298.9" font-size="13" text-anchor="start" font-weight="normal" >2</text>
<text x="383" y="335.5" font-size="15" text-anchor="start" font-weight="normal" >-</text>
<text x="359" y="394.3" font-size="16.3" text-anchor="start" font-weight="normal" textLength="33" lengthAdjust="spacingAndGlyphs" >AUF</text>
<text x="495.5" y="456.3" font-size="16" text-anchor="start" font-weight="normal" textLength="42.5" lengthAdjust="spacingAndGlyphs" >CD16</text>
<line x1="415" y1="439.4" x2="612" y2="439.4" stroke="#000" stroke-width="1.4" stroke-linecap="butt"/>
<polygon points="618.8,439.4 606.9,434.8 610.2,439.4 606.9,444" fill="#000"/>
<polygon points="408.75,421.25 412.50,419.40 415.60,416.25 418.10,414.75 421.25,416.25 426.25,417.90 431.25,416.90 436.25,411.90 440.00,403.75 443.75,390.00 446.90,377.50 449.00,370.00 450.00,366.00 451.00,370.00 452.25,373.75 453.75,386.25 455.60,402.50 457.50,415.00 459.40,420.25 461.25,421.50" fill="#979797" stroke="#111" stroke-width="1.45" stroke-linejoin="round"/>
<polyline points="397.10,359.75 406.25,359.75 410.00,358.10 413.10,353.10 416.25,348.50 418.50,346.90 421.25,348.75 425.00,351.25 428.10,352.10 432.50,350.00 437.50,345.00 442.50,337.50 446.90,327.50 450.00,317.50 452.50,308.75 454.00,304.75 455.60,308.75 457.50,318.75 459.40,337.50 461.25,352.50 463.75,358.50 466.25,359.75 474.40,359.75" fill="none" stroke="#111" stroke-width="1.45" stroke-linejoin="round"/>
<rect x="397.1" y="299" width="77.5" height="122.5" fill="none" stroke="#111" stroke-width="1.45"/>
<line x1="397.1" y1="421.5" x2="397.1" y2="423.6" stroke="#000" stroke-width="1.05"/>
<line x1="398.9" y1="421.5" x2="398.9" y2="423.6" stroke="#000" stroke-width="1.05"/>
<line x1="400.7" y1="421.5" x2="400.7" y2="423.6" stroke="#000" stroke-width="1.05"/>
<line x1="402.5" y1="421.5" x2="402.5" y2="423.6" stroke="#000" stroke-width="1.05"/>
<line x1="404.3" y1="421.5" x2="404.3" y2="423.6" stroke="#000" stroke-width="1.05"/>
<line x1="407.6" y1="421.5" x2="407.6" y2="423.6" stroke="#000" stroke-width="1.05"/>
<line x1="409.1" y1="421.5" x2="409.1" y2="423.6" stroke="#000" stroke-width="1.05"/>
<line x1="410.9" y1="421.5" x2="410.9" y2="423.6" stroke="#000" stroke-width="1.05"/>
<line x1="412.7" y1="421.5" x2="412.7" y2="423.6" stroke="#000" stroke-width="1.05"/>
<line x1="414.6" y1="421.5" x2="414.6" y2="424.5" stroke="#000" stroke-width="1.05"/>
<line x1="415.8" y1="421.5" x2="415.8" y2="424.5" stroke="#000" stroke-width="1.05"/>
<line x1="417.0" y1="421.5" x2="417.0" y2="424.5" stroke="#000" stroke-width="1.05"/>
<line x1="418.2" y1="421.5" x2="418.2" y2="424.5" stroke="#000" stroke-width="1.05"/>
<line x1="419.4" y1="421.5" x2="419.4" y2="424.5" stroke="#000" stroke-width="1.05"/>
<line x1="421.1" y1="421.5" x2="421.1" y2="423.6" stroke="#000" stroke-width="1.05"/>
<line x1="422.9" y1="421.5" x2="422.9" y2="423.6" stroke="#000" stroke-width="1.05"/>
<line x1="424.7" y1="421.5" x2="424.7" y2="423.6" stroke="#000" stroke-width="1.05"/>
<line x1="426.5" y1="421.5" x2="426.5" y2="423.6" stroke="#000" stroke-width="1.05"/>
<line x1="429.6" y1="421.5" x2="429.6" y2="423.6" stroke="#000" stroke-width="1.05"/>
<line x1="433.1" y1="421.5" x2="433.1" y2="423.6" stroke="#000" stroke-width="1.05"/>
<line x1="437.1" y1="421.5" x2="437.1" y2="423.6" stroke="#000" stroke-width="1.05"/>
<line x1="440.6" y1="421.5" x2="440.6" y2="423.6" stroke="#000" stroke-width="1.05"/>
<line x1="443.6" y1="421.5" x2="443.6" y2="423.6" stroke="#000" stroke-width="1.05"/>
<line x1="445.6" y1="421.5" x2="445.6" y2="423.6" stroke="#000" stroke-width="1.05"/>
<line x1="447.4" y1="421.5" x2="447.4" y2="424.7" stroke="#000" stroke-width="1.05"/>
<line x1="452.7" y1="421.5" x2="452.7" y2="423.6" stroke="#000" stroke-width="1.05"/>
<line x1="455.8" y1="421.5" x2="455.8" y2="423.6" stroke="#000" stroke-width="1.05"/>
<line x1="458.1" y1="421.5" x2="458.1" y2="423.6" stroke="#000" stroke-width="1.05"/>
<line x1="459.8" y1="421.5" x2="459.8" y2="423.6" stroke="#000" stroke-width="1.05"/>
<line x1="461.2" y1="421.5" x2="461.2" y2="423.6" stroke="#000" stroke-width="1.05"/>
<line x1="462.4" y1="421.5" x2="462.4" y2="423.6" stroke="#000" stroke-width="1.05"/>
<line x1="463.4" y1="421.5" x2="463.4" y2="423.6" stroke="#000" stroke-width="1.05"/>
<line x1="464.3" y1="421.5" x2="464.3" y2="423.6" stroke="#000" stroke-width="1.05"/>
<line x1="465.1" y1="421.5" x2="465.1" y2="424.7" stroke="#000" stroke-width="1.05"/>
<line x1="470.4" y1="421.5" x2="470.4" y2="423.6" stroke="#000" stroke-width="1.05"/>
<line x1="473.5" y1="421.5" x2="473.5" y2="423.6" stroke="#000" stroke-width="1.05"/>
<text x="417.1" y="431.8" font-size="4" text-anchor="middle" style="stroke-width:0.5px;stroke:#222;fill:#222">0</text>
<text x="447.70000000000005" y="431.8" font-size="4" text-anchor="middle" style="stroke-width:0.5px;stroke:#222;fill:#222">10³</text>
<text x="465.40000000000003" y="431.8" font-size="4" text-anchor="middle" style="stroke-width:0.5px;stroke:#222;fill:#222">10⁴</text>
<polygon points="488.75,421.50 492.50,418.75 495.60,415.00 497.50,413.75 501.25,415.25 507.50,417.10 512.50,415.60 516.90,411.25 520.60,402.50 524.40,388.75 526.90,377.50 528.75,370.60 530.00,367.50 531.50,368.75 533.10,378.75 535.00,396.25 536.90,412.50 538.75,420.00 540.60,421.50" fill="#979797" stroke="#111" stroke-width="1.45" stroke-linejoin="round"/>
<polyline points="477.10,359.75 486.25,359.75 490.00,357.50 493.10,348.75 495.60,335.00 498.10,318.75 500.00,310.00 501.90,305.00 503.75,306.90 505.00,311.25 507.50,315.60 510.00,320.60 512.50,322.75 515.00,324.40 516.50,318.10 518.10,320.60 520.60,314.40 522.50,316.25 525.00,311.90 527.75,307.50 531.25,308.75 533.10,315.00 535.60,326.25 538.10,342.50 540.60,353.75 543.75,358.10 548.75,359.75 555.00,359.75" fill="none" stroke="#111" stroke-width="1.45" stroke-linejoin="round"/>
<rect x="477.1" y="299" width="77.89999999999998" height="122.5" fill="none" stroke="#111" stroke-width="1.45"/>
<line x1="477.1" y1="421.5" x2="477.1" y2="423.6" stroke="#000" stroke-width="1.05"/>
<line x1="478.9" y1="421.5" x2="478.9" y2="423.6" stroke="#000" stroke-width="1.05"/>
<line x1="480.7" y1="421.5" x2="480.7" y2="423.6" stroke="#000" stroke-width="1.05"/>
<line x1="482.5" y1="421.5" x2="482.5" y2="423.6" stroke="#000" stroke-width="1.05"/>
<line x1="484.3" y1="421.5" x2="484.3" y2="423.6" stroke="#000" stroke-width="1.05"/>
<line x1="487.6" y1="421.5" x2="487.6" y2="423.6" stroke="#000" stroke-width="1.05"/>
<line x1="489.1" y1="421.5" x2="489.1" y2="423.6" stroke="#000" stroke-width="1.05"/>
<line x1="490.9" y1="421.5" x2="490.9" y2="423.6" stroke="#000" stroke-width="1.05"/>
<line x1="492.7" y1="421.5" x2="492.7" y2="423.6" stroke="#000" stroke-width="1.05"/>
<line x1="494.6" y1="421.5" x2="494.6" y2="424.5" stroke="#000" stroke-width="1.05"/>
<line x1="495.8" y1="421.5" x2="495.8" y2="424.5" stroke="#000" stroke-width="1.05"/>
<line x1="497.0" y1="421.5" x2="497.0" y2="424.5" stroke="#000" stroke-width="1.05"/>
<line x1="498.2" y1="421.5" x2="498.2" y2="424.5" stroke="#000" stroke-width="1.05"/>
<line x1="499.4" y1="421.5" x2="499.4" y2="424.5" stroke="#000" stroke-width="1.05"/>
<line x1="501.1" y1="421.5" x2="501.1" y2="423.6" stroke="#000" stroke-width="1.05"/>
<line x1="502.9" y1="421.5" x2="502.9" y2="423.6" stroke="#000" stroke-width="1.05"/>
<line x1="504.7" y1="421.5" x2="504.7" y2="423.6" stroke="#000" stroke-width="1.05"/>
<line x1="506.5" y1="421.5" x2="506.5" y2="423.6" stroke="#000" stroke-width="1.05"/>
<line x1="509.6" y1="421.5" x2="509.6" y2="423.6" stroke="#000" stroke-width="1.05"/>
<line x1="513.1" y1="421.5" x2="513.1" y2="423.6" stroke="#000" stroke-width="1.05"/>
<line x1="517.1" y1="421.5" x2="517.1" y2="423.6" stroke="#000" stroke-width="1.05"/>
<line x1="520.6" y1="421.5" x2="520.6" y2="423.6" stroke="#000" stroke-width="1.05"/>
<line x1="523.6" y1="421.5" x2="523.6" y2="423.6" stroke="#000" stroke-width="1.05"/>
<line x1="525.6" y1="421.5" x2="525.6" y2="423.6" stroke="#000" stroke-width="1.05"/>
<line x1="527.4" y1="421.5" x2="527.4" y2="424.7" stroke="#000" stroke-width="1.05"/>
<line x1="532.7" y1="421.5" x2="532.7" y2="423.6" stroke="#000" stroke-width="1.05"/>
<line x1="535.8" y1="421.5" x2="535.8" y2="423.6" stroke="#000" stroke-width="1.05"/>
<line x1="538.1" y1="421.5" x2="538.1" y2="423.6" stroke="#000" stroke-width="1.05"/>
<line x1="539.8" y1="421.5" x2="539.8" y2="423.6" stroke="#000" stroke-width="1.05"/>
<line x1="541.2" y1="421.5" x2="541.2" y2="423.6" stroke="#000" stroke-width="1.05"/>
<line x1="542.4" y1="421.5" x2="542.4" y2="423.6" stroke="#000" stroke-width="1.05"/>
<line x1="543.4" y1="421.5" x2="543.4" y2="423.6" stroke="#000" stroke-width="1.05"/>
<line x1="544.3" y1="421.5" x2="544.3" y2="423.6" stroke="#000" stroke-width="1.05"/>
<line x1="545.1" y1="421.5" x2="545.1" y2="424.7" stroke="#000" stroke-width="1.05"/>
<line x1="550.4" y1="421.5" x2="550.4" y2="423.6" stroke="#000" stroke-width="1.05"/>
<line x1="553.5" y1="421.5" x2="553.5" y2="423.6" stroke="#000" stroke-width="1.05"/>
<text x="497.1" y="431.8" font-size="4" text-anchor="middle" style="stroke-width:0.5px;stroke:#222;fill:#222">0</text>
<text x="527.7" y="431.8" font-size="4" text-anchor="middle" style="stroke-width:0.5px;stroke:#222;fill:#222">10³</text>
<text x="545.4" y="431.8" font-size="4" text-anchor="middle" style="stroke-width:0.5px;stroke:#222;fill:#222">10⁴</text>
<polygon points="569.40,421.50 572.50,417.50 575.60,408.75 577.75,401.25 580.00,399.40 581.25,396.50 582.75,401.25 586.25,403.75 590.00,405.25 593.10,401.90 596.25,396.90 599.40,388.75 601.90,382.50 604.00,373.75 605.60,370.60 606.50,368.10 607.50,371.90 608.50,367.50 609.75,375.00 611.25,382.50 613.10,400.00 615.00,412.50 617.50,420.00 619.40,421.50" fill="#979797" stroke="#111" stroke-width="1.45" stroke-linejoin="round"/>
<polyline points="557.50,359.75 567.50,359.75 570.60,358.10 573.75,350.00 576.25,336.25 578.50,322.50 580.60,313.75 582.75,309.75 585.00,313.10 586.90,322.50 589.40,327.50 591.25,336.25 594.40,339.40 598.10,342.50 600.00,341.90 603.10,345.60 606.90,349.40 610.60,354.40 615.00,358.50 620.00,359.75 635.40,359.75" fill="none" stroke="#111" stroke-width="1.45" stroke-linejoin="round"/>
<rect x="557.5" y="299" width="77.89999999999998" height="122.5" fill="none" stroke="#111" stroke-width="1.45"/>
<line x1="557.5" y1="421.5" x2="557.5" y2="423.6" stroke="#000" stroke-width="1.05"/>
<line x1="559.3" y1="421.5" x2="559.3" y2="423.6" stroke="#000" stroke-width="1.05"/>
<line x1="561.1" y1="421.5" x2="561.1" y2="423.6" stroke="#000" stroke-width="1.05"/>
<line x1="562.9" y1="421.5" x2="562.9" y2="423.6" stroke="#000" stroke-width="1.05"/>
<line x1="564.7" y1="421.5" x2="564.7" y2="423.6" stroke="#000" stroke-width="1.05"/>
<line x1="568.0" y1="421.5" x2="568.0" y2="423.6" stroke="#000" stroke-width="1.05"/>
<line x1="569.5" y1="421.5" x2="569.5" y2="423.6" stroke="#000" stroke-width="1.05"/>
<line x1="571.3" y1="421.5" x2="571.3" y2="423.6" stroke="#000" stroke-width="1.05"/>
<line x1="573.1" y1="421.5" x2="573.1" y2="423.6" stroke="#000" stroke-width="1.05"/>
<line x1="575.0" y1="421.5" x2="575.0" y2="424.5" stroke="#000" stroke-width="1.05"/>
<line x1="576.2" y1="421.5" x2="576.2" y2="424.5" stroke="#000" stroke-width="1.05"/>
<line x1="577.4" y1="421.5" x2="577.4" y2="424.5" stroke="#000" stroke-width="1.05"/>
<line x1="578.6" y1="421.5" x2="578.6" y2="424.5" stroke="#000" stroke-width="1.05"/>
<line x1="579.8" y1="421.5" x2="579.8" y2="424.5" stroke="#000" stroke-width="1.05"/>
<line x1="581.5" y1="421.5" x2="581.5" y2="423.6" stroke="#000" stroke-width="1.05"/>
<line x1="583.3" y1="421.5" x2="583.3" y2="423.6" stroke="#000" stroke-width="1.05"/>
<line x1="585.1" y1="421.5" x2="585.1" y2="423.6" stroke="#000" stroke-width="1.05"/>
<line x1="586.9" y1="421.5" x2="586.9" y2="423.6" stroke="#000" stroke-width="1.05"/>
<line x1="590.0" y1="421.5" x2="590.0" y2="423.6" stroke="#000" stroke-width="1.05"/>
<line x1="593.5" y1="421.5" x2="593.5" y2="423.6" stroke="#000" stroke-width="1.05"/>
<line x1="597.5" y1="421.5" x2="597.5" y2="423.6" stroke="#000" stroke-width="1.05"/>
<line x1="601.0" y1="421.5" x2="601.0" y2="423.6" stroke="#000" stroke-width="1.05"/>
<line x1="604.0" y1="421.5" x2="604.0" y2="423.6" stroke="#000" stroke-width="1.05"/>
<line x1="606.0" y1="421.5" x2="606.0" y2="423.6" stroke="#000" stroke-width="1.05"/>
<line x1="607.8" y1="421.5" x2="607.8" y2="424.7" stroke="#000" stroke-width="1.05"/>
<line x1="613.1" y1="421.5" x2="613.1" y2="423.6" stroke="#000" stroke-width="1.05"/>
<line x1="616.2" y1="421.5" x2="616.2" y2="423.6" stroke="#000" stroke-width="1.05"/>
<line x1="618.5" y1="421.5" x2="618.5" y2="423.6" stroke="#000" stroke-width="1.05"/>
<line x1="620.2" y1="421.5" x2="620.2" y2="423.6" stroke="#000" stroke-width="1.05"/>
<line x1="621.6" y1="421.5" x2="621.6" y2="423.6" stroke="#000" stroke-width="1.05"/>
<line x1="622.8" y1="421.5" x2="622.8" y2="423.6" stroke="#000" stroke-width="1.05"/>
<line x1="623.8" y1="421.5" x2="623.8" y2="423.6" stroke="#000" stroke-width="1.05"/>
<line x1="624.7" y1="421.5" x2="624.7" y2="423.6" stroke="#000" stroke-width="1.05"/>
<line x1="625.5" y1="421.5" x2="625.5" y2="424.7" stroke="#000" stroke-width="1.05"/>
<line x1="630.8" y1="421.5" x2="630.8" y2="423.6" stroke="#000" stroke-width="1.05"/>
<line x1="633.9" y1="421.5" x2="633.9" y2="423.6" stroke="#000" stroke-width="1.05"/>
<text x="577.5" y="431.8" font-size="4" text-anchor="middle" style="stroke-width:0.5px;stroke:#222;fill:#222">0</text>
<text x="608.1" y="431.8" font-size="4" text-anchor="middle" style="stroke-width:0.5px;stroke:#222;fill:#222">10³</text>
<text x="625.8" y="431.8" font-size="4" text-anchor="middle" style="stroke-width:0.5px;stroke:#222;fill:#222">10⁴</text>
<text x="3.8" y="538.5" font-size="20" text-anchor="start" font-weight="bold" >E</text>
<text x="116.25" y="541.3" font-size="15.5" text-anchor="start" font-weight="normal" textLength="126.3" lengthAdjust="spacingAndGlyphs" >CD19 CAR T cells</text>
<text x="164.4" y="558.6" font-size="15.5" text-anchor="start" font-weight="normal" >RAJI</text>
<line x1="94.7" y1="560.3" x2="94.7" y2="730.7" stroke="#000" stroke-width="2" stroke-linecap="butt"/>
<line x1="93.7" y1="729.75" x2="263" y2="729.75" stroke="#000" stroke-width="2" stroke-linecap="butt"/>
<line x1="89.3" y1="561.25" x2="94.7" y2="561.25" stroke="#000" stroke-width="1.9" stroke-linecap="butt"/>
<text x="84.5" y="566.75" font-size="15.6" text-anchor="end" font-weight="normal" >100</text>
<line x1="89.3" y1="593.25" x2="94.7" y2="593.25" stroke="#000" stroke-width="1.9" stroke-linecap="butt"/>
<text x="84.5" y="598.75" font-size="15.6" text-anchor="end" font-weight="normal" >80</text>
<line x1="89.3" y1="625.25" x2="94.7" y2="625.25" stroke="#000" stroke-width="1.9" stroke-linecap="butt"/>
<text x="84.5" y="630.75" font-size="15.6" text-anchor="end" font-weight="normal" >60</text>
<line x1="89.3" y1="657.3" x2="94.7" y2="657.3" stroke="#000" stroke-width="1.9" stroke-linecap="butt"/>
<text x="84.5" y="662.8" font-size="15.6" text-anchor="end" font-weight="normal" >40</text>
<line x1="89.3" y1="689.3" x2="94.7" y2="689.3" stroke="#000" stroke-width="1.9" stroke-linecap="butt"/>
<text x="84.5" y="694.8" font-size="15.6" text-anchor="end" font-weight="normal" >20</text>
<line x1="89.3" y1="721.3" x2="94.7" y2="721.3" stroke="#000" stroke-width="1.9" stroke-linecap="butt"/>
<text x="84.5" y="726.8" font-size="15.6" text-anchor="end" font-weight="normal" >0</text>
<text x="125.6" y="745.6" font-size="16" text-anchor="middle" font-weight="normal" >0</text>
<text x="179.2" y="745.6" font-size="16" text-anchor="middle" font-weight="normal" >100</text>
<text x="232.7" y="745.6" font-size="16" text-anchor="middle" font-weight="normal" >250</text>
<text x="142.6" y="764.2" font-size="16">H<tspan dy="5.5" font-size="12">2</tspan><tspan dy="-5.5">O</tspan><tspan dy="5.5" font-size="12">2</tspan><tspan dy="-5.5"> [µM]</tspan></text>
<text transform="translate(52.3,651.2) rotate(-90)" font-size="17" text-anchor="middle" textLength="103" lengthAdjust="spacingAndGlyphs">% specific lysis</text>
<line x1="151.6" y1="561" x2="151.6" y2="731" stroke="#2a2a2a" stroke-width="1.35" stroke-dasharray="2.8 1.5"/>
<line x1="205.6" y1="561" x2="205.6" y2="731" stroke="#2a2a2a" stroke-width="1.35" stroke-dasharray="2.8 1.5"/>
<line x1="106.75" y1="590.75" x2="106.75" y2="619.5" stroke="#000" stroke-width="1.6" stroke-linecap="butt"/>
<rect x="101.65" y="595.15" width="9.95" height="18.95" fill="#fff" stroke="#000" stroke-width="1.8"/>
<circle cx="106.75" cy="590.75" r="3.0" fill="#fff" stroke="#000" stroke-width="1.85"/>
<circle cx="103.25" cy="605" r="3.0" fill="#fff" stroke="#000" stroke-width="1.85"/>
<circle cx="110" cy="607" r="3.0" fill="#fff" stroke="#000" stroke-width="1.85"/>
<circle cx="106.75" cy="619.5" r="3.0" fill="#fff" stroke="#000" stroke-width="1.85"/>
<line x1="124.5" y1="585.5" x2="124.5" y2="620.5" stroke="#000" stroke-width="1.6" stroke-linecap="butt"/>
<line x1="119.0" y1="606.25" x2="130.0" y2="606.25" stroke="#000" stroke-width="1.5" stroke-linecap="butt"/>
<circle cx="124.5" cy="585.5" r="3.0" fill="#858585" stroke="#000" stroke-width="1.85"/>
<circle cx="124.5" cy="606.25" r="3.0" fill="#858585" stroke="#000" stroke-width="1.85"/>
<circle cx="124.5" cy="620.5" r="3.0" fill="#858585" stroke="#000" stroke-width="1.85"/>
<line x1="142.5" y1="585.5" x2="142.5" y2="630" stroke="#000" stroke-width="1.6" stroke-linecap="butt"/>
<rect x="137.15" y="592.15" width="10.7" height="31.95" fill="#000" stroke="#000" stroke-width="1.8"/>
<circle cx="142.5" cy="585.5" r="3.0" fill="#fff" stroke="#000" stroke-width="1.85"/>
<circle cx="140" cy="608.25" r="3.0" fill="#fff" stroke="#000" stroke-width="1.85"/>
<circle cx="145.5" cy="608.25" r="3.0" fill="#fff" stroke="#000" stroke-width="1.85"/>
<circle cx="142.5" cy="630" r="3.0" fill="#fff" stroke="#000" stroke-width="1.85"/>
<line x1="160.6" y1="684" x2="160.6" y2="703.75" stroke="#000" stroke-width="1.6" stroke-linecap="butt"/>
<rect x="155.9" y="617.15" width="9.45" height="66.2" fill="#fff" stroke="#000" stroke-width="1.8"/>
<circle cx="163.5" cy="614.5" r="3.0" fill="#fff" stroke="#000" stroke-width="1.85"/>
<circle cx="157.7" cy="620" r="3.0" fill="#fff" stroke="#000" stroke-width="1.85"/>
<circle cx="161.25" cy="628.75" r="3.0" fill="#fff" stroke="#000" stroke-width="1.85"/>
<circle cx="160.5" cy="703.75" r="3.0" fill="#fff" stroke="#000" stroke-width="1.85"/>
<line x1="178.25" y1="594.5" x2="178.25" y2="630" stroke="#000" stroke-width="1.6" stroke-linecap="butt"/>
<line x1="172.25" y1="629.25" x2="184.25" y2="629.25" stroke="#000" stroke-width="1.5" stroke-linecap="butt"/>
<circle cx="178.25" cy="594.5" r="3.0" fill="#858585" stroke="#000" stroke-width="1.85"/>
<circle cx="181.6" cy="628" r="3.0" fill="#858585" stroke="#000" stroke-width="1.85"/>
<circle cx="176" cy="633.25" r="3.0" fill="#858585" stroke="#000" stroke-width="1.85"/>
<rect x="191.65" y="617.15" width="9.95" height="14.45" fill="#000" stroke="#000" stroke-width="1.8"/>
<circle cx="199.25" cy="613.75" r="3.0" fill="#fff" stroke="#000" stroke-width="1.85"/>
<circle cx="193.75" cy="618" r="3.0" fill="#fff" stroke="#000" stroke-width="1.85"/>
<circle cx="199.25" cy="621.25" r="3.0" fill="#fff" stroke="#000" stroke-width="1.85"/>
<circle cx="196.75" cy="636.25" r="3.0" fill="#fff" stroke="#000" stroke-width="1.85"/>
<rect x="210.0" y="687.9" width="9.7" height="40.7" fill="#fff" stroke="#000" stroke-width="1.8"/>
<line x1="209.1" y1="700.6" x2="220.6" y2="700.6" stroke="#000" stroke-width="1.5" stroke-linecap="butt"/>
<circle cx="217.5" cy="685.25" r="3.0" fill="#fff" stroke="#000" stroke-width="1.85"/>
<circle cx="212.25" cy="688.1" r="3.0" fill="#fff" stroke="#000" stroke-width="1.85"/>
<circle cx="214.75" cy="714.4" r="3.0" fill="#fff" stroke="#000" stroke-width="1.85"/>
<circle cx="214.75" cy="729.75" r="3.0" fill="#fff" stroke="#000" stroke-width="1.85"/>
<line x1="232.6" y1="653" x2="232.6" y2="695.4" stroke="#000" stroke-width="1.6" stroke-linecap="butt"/>
<line x1="227.1" y1="671.25" x2="238.1" y2="671.25" stroke="#000" stroke-width="1.5" stroke-linecap="butt"/>
<circle cx="232.6" cy="653" r="3.0" fill="#858585" stroke="#000" stroke-width="1.85"/>
<circle cx="232.6" cy="671.25" r="3.0" fill="#858585" stroke="#000" stroke-width="1.85"/>
<circle cx="232.6" cy="695.4" r="3.0" fill="#858585" stroke="#000" stroke-width="1.85"/>
<line x1="250.7" y1="672" x2="250.7" y2="682.5" stroke="#000" stroke-width="1.6" stroke-linecap="butt"/>
<rect x="245.4" y="639.65" width="10.45" height="32.7" fill="#000" stroke="#000" stroke-width="1.8"/>
<circle cx="250.75" cy="636.25" r="3.0" fill="#fff" stroke="#000" stroke-width="1.85"/>
<circle cx="248" cy="643.25" r="3.0" fill="#fff" stroke="#000" stroke-width="1.85"/>
<circle cx="253.75" cy="648.25" r="3.0" fill="#fff" stroke="#000" stroke-width="1.85"/>
<circle cx="250.7" cy="682.5" r="3.0" fill="#fff" stroke="#000" stroke-width="1.85"/>
<polyline points="213.75,632.5 213.75,621.25 251.75,621.25 251.75,621.25" fill="none" stroke="#000" stroke-width="2" stroke-linejoin="miter"/>
<text x="232.75" y="622.5" font-size="15.5" text-anchor="middle" font-weight="normal" >**</text>
<polyline points="214.5,677 214.5,645 233.75,645 233.75,645" fill="none" stroke="#000" stroke-width="2" stroke-linejoin="miter"/>
<text x="224.125" y="646" font-size="15.5" text-anchor="middle" font-weight="normal" >**</text>
<text x="310.4" y="538.5" font-size="20" text-anchor="start" font-weight="bold" >F</text>
<text x="387.5" y="541.3" font-size="15.5" text-anchor="start" font-weight="normal" textLength="126.3" lengthAdjust="spacingAndGlyphs" >CD19 CAR T cells</text>
<text x="421.3" y="558.2" font-size="15.5" text-anchor="start" font-weight="normal" textLength="58.5" lengthAdjust="spacingAndGlyphs" >N6/ADR</text>
<line x1="365.75" y1="560.3" x2="365.75" y2="730.5" stroke="#000" stroke-width="2" stroke-linecap="butt"/>
<line x1="364.75" y1="729.5" x2="535.5" y2="729.5" stroke="#000" stroke-width="2" stroke-linecap="butt"/>
<line x1="360.35" y1="561.25" x2="365.75" y2="561.25" stroke="#000" stroke-width="1.9" stroke-linecap="butt"/>
<text x="355.55" y="566.75" font-size="15.6" text-anchor="end" font-weight="normal" >100</text>
<line x1="360.35" y1="593.25" x2="365.75" y2="593.25" stroke="#000" stroke-width="1.9" stroke-linecap="butt"/>
<text x="355.55" y="598.75" font-size="15.6" text-anchor="end" font-weight="normal" >80</text>
<line x1="360.35" y1="625.25" x2="365.75" y2="625.25" stroke="#000" stroke-width="1.9" stroke-linecap="butt"/>
<text x="355.55" y="630.75" font-size="15.6" text-anchor="end" font-weight="normal" >60</text>
<line x1="360.35" y1="657.4" x2="365.75" y2="657.4" stroke="#000" stroke-width="1.9" stroke-linecap="butt"/>
<text x="355.55" y="662.9" font-size="15.6" text-anchor="end" font-weight="normal" >40</text>
<line x1="360.35" y1="689.4" x2="365.75" y2="689.4" stroke="#000" stroke-width="1.9" stroke-linecap="butt"/>
<text x="355.55" y="694.9" font-size="15.6" text-anchor="end" font-weight="normal" >20</text>
<line x1="360.35" y1="721.4" x2="365.75" y2="721.4" stroke="#000" stroke-width="1.9" stroke-linecap="butt"/>
<text x="355.55" y="726.9" font-size="15.6" text-anchor="end" font-weight="normal" >0</text>
<text x="396.25" y="745.7" font-size="16" text-anchor="middle" font-weight="normal" >0</text>
<text x="449.25" y="745.7" font-size="16" text-anchor="middle" font-weight="normal" >100</text>
<text x="503.5" y="745.7" font-size="16" text-anchor="middle" font-weight="normal" >250</text>
<text x="414.8" y="764.2" font-size="16">H<tspan dy="5.5" font-size="12">2</tspan><tspan dy="-5.5">O</tspan><tspan dy="5.5" font-size="12">2</tspan><tspan dy="-5.5"> [µM]</tspan></text>
<text transform="translate(324.3,651.2) rotate(-90)" font-size="17" text-anchor="middle" textLength="103" lengthAdjust="spacingAndGlyphs">% specific lysis</text>
<line x1="422.7" y1="561" x2="422.7" y2="731" stroke="#2a2a2a" stroke-width="1.35" stroke-dasharray="2.8 1.5"/>
<line x1="476.9" y1="561" x2="476.9" y2="731" stroke="#2a2a2a" stroke-width="1.35" stroke-dasharray="2.8 1.5"/>
<text x="541.5" y="579.5" font-size="15.5" text-anchor="start" font-weight="normal" textLength="79.5" lengthAdjust="spacingAndGlyphs" >AUF µg/mL</text>
<rect x="541.0" y="589.25" width="8" height="8.0" fill="#fff" stroke="#000" stroke-width="2"/>
<rect x="541.0" y="609.0" width="8" height="8" fill="#858585" stroke="#000" stroke-width="2"/>
<rect x="541.0" y="629.0" width="8" height="8" fill="#000" stroke="#000" stroke-width="2"/>
<text x="563.5" y="599" font-size="15" text-anchor="start" font-weight="normal" >-</text>
<text x="562.3" y="618" font-size="15.5" text-anchor="start" font-weight="normal" textLength="30.5" lengthAdjust="spacingAndGlyphs" >0,25</text>
<text x="562.3" y="637.6" font-size="15.5" text-anchor="start" font-weight="normal" textLength="22.5" lengthAdjust="spacingAndGlyphs" >0,5</text>
<rect x="373.9" y="597.9" width="8.95" height="16.95" fill="#fff" stroke="#000" stroke-width="1.8"/>
<line x1="373" y1="605" x2="383.75" y2="605" stroke="#000" stroke-width="1.5" stroke-linecap="butt"/>
<circle cx="380.5" cy="596.25" r="3.0" fill="#fff" stroke="#000" stroke-width="1.85"/>
<circle cx="375.75" cy="599.5" r="3.0" fill="#fff" stroke="#000" stroke-width="1.85"/>
<circle cx="375.75" cy="615" r="3.0" fill="#fff" stroke="#000" stroke-width="1.85"/>
<circle cx="380.5" cy="614.5" r="3.0" fill="#fff" stroke="#000" stroke-width="1.85"/>
<line x1="396.25" y1="596.25" x2="396.25" y2="624" stroke="#000" stroke-width="1.6" stroke-linecap="butt"/>
<line x1="390.75" y1="622" x2="401.75" y2="622" stroke="#000" stroke-width="1.5" stroke-linecap="butt"/>
<circle cx="396.25" cy="596.25" r="3.0" fill="#858585" stroke="#000" stroke-width="1.85"/>
<circle cx="399.25" cy="621.75" r="3.0" fill="#858585" stroke="#000" stroke-width="1.85"/>
<circle cx="393.25" cy="628.25" r="3.0" fill="#858585" stroke="#000" stroke-width="1.85"/>
<line x1="414.25" y1="601.25" x2="414.25" y2="636.25" stroke="#000" stroke-width="1.6" stroke-linecap="butt"/>
<rect x="408.9" y="604.65" width="10.2" height="24.95" fill="#000" stroke="#000" stroke-width="1.8"/>
<circle cx="414.25" cy="601.25" r="3.0" fill="#fff" stroke="#000" stroke-width="1.85"/>
<circle cx="411.25" cy="610.5" r="3.0" fill="#fff" stroke="#000" stroke-width="1.85"/>
<circle cx="417" cy="613.75" r="3.0" fill="#fff" stroke="#000" stroke-width="1.85"/>
<circle cx="414.25" cy="636.25" r="3.0" fill="#fff" stroke="#000" stroke-width="1.85"/>
<line x1="432.3" y1="659" x2="432.3" y2="670" stroke="#000" stroke-width="1.6" stroke-linecap="butt"/>
<rect x="427.29999999999995" y="624.65" width="9.50000000000001" height="33.95" fill="#fff" stroke="#000" stroke-width="1.8"/>
<circle cx="435" cy="620" r="3.0" fill="#fff" stroke="#000" stroke-width="1.85"/>
<circle cx="429.25" cy="623" r="3.0" fill="#fff" stroke="#000" stroke-width="1.85"/>
<circle cx="432.5" cy="629.5" r="3.0" fill="#fff" stroke="#000" stroke-width="1.85"/>
<circle cx="432.2" cy="670.2" r="3.0" fill="#fff" stroke="#000" stroke-width="1.85"/>
<line x1="450" y1="600.5" x2="450" y2="627.5" stroke="#000" stroke-width="1.6" stroke-linecap="butt"/>
<line x1="444.5" y1="615.75" x2="455.5" y2="615.75" stroke="#000" stroke-width="1.5" stroke-linecap="butt"/>
<circle cx="450" cy="600.5" r="3.0" fill="#858585" stroke="#000" stroke-width="1.85"/>
<circle cx="450" cy="615.75" r="3.0" fill="#858585" stroke="#000" stroke-width="1.85"/>
<circle cx="450" cy="627.5" r="3.0" fill="#858585" stroke="#000" stroke-width="1.85"/>
<rect x="462.9" y="620.9" width="9.95" height="9.45" fill="#000" stroke="#000" stroke-width="1.8"/>
<circle cx="465.6" cy="617.2" r="3.0" fill="#fff" stroke="#000" stroke-width="1.85"/>
<circle cx="470.5" cy="622" r="3.0" fill="#fff" stroke="#000" stroke-width="1.85"/>
<circle cx="468" cy="634.5" r="3.0" fill="#fff" stroke="#000" stroke-width="1.85"/>
<line x1="485.75" y1="648" x2="485.75" y2="657" stroke="#000" stroke-width="1.6" stroke-linecap="butt"/>
<line x1="485.75" y1="719" x2="485.75" y2="724.5" stroke="#000" stroke-width="1.6" stroke-linecap="butt"/>
<rect x="481.4" y="657.15" width="9.45" height="61.45" fill="#fff" stroke="#000" stroke-width="1.8"/>
<line x1="480.5" y1="692.5" x2="491.75" y2="692.5" stroke="#000" stroke-width="1.5" stroke-linecap="butt"/>
<circle cx="485.75" cy="647.8" r="3.0" fill="#fff" stroke="#000" stroke-width="1.85"/>
<circle cx="485.75" cy="681" r="3.0" fill="#fff" stroke="#000" stroke-width="1.85"/>
<circle cx="485.75" cy="705" r="3.0" fill="#fff" stroke="#000" stroke-width="1.85"/>
<circle cx="485.75" cy="724.5" r="3.0" fill="#fff" stroke="#000" stroke-width="1.85"/>
<line x1="503.75" y1="641" x2="503.75" y2="659.25" stroke="#000" stroke-width="1.6" stroke-linecap="butt"/>
<line x1="498.75" y1="646.25" x2="508.75" y2="646.25" stroke="#000" stroke-width="1.5" stroke-linecap="butt"/>
<circle cx="501.75" cy="641.25" r="3.0" fill="#858585" stroke="#000" stroke-width="1.85"/>
<circle cx="506.25" cy="646.75" r="3.0" fill="#858585" stroke="#000" stroke-width="1.85"/>
<circle cx="503.75" cy="659.25" r="3.0" fill="#858585" stroke="#000" stroke-width="1.85"/>
<rect x="517.15" y="632.15" width="9.95" height="26.95" fill="#000" stroke="#000" stroke-width="1.8"/>
<circle cx="522" cy="628" r="3.0" fill="#fff" stroke="#000" stroke-width="1.85"/>
<circle cx="522" cy="638" r="3.0" fill="#fff" stroke="#000" stroke-width="1.85"/>
<circle cx="525" cy="656.25" r="3.0" fill="#fff" stroke="#000" stroke-width="1.85"/>
<circle cx="519.25" cy="660.75" r="3.0" fill="#fff" stroke="#000" stroke-width="1.85"/>
<polyline points="485.75,625 485.75,613 522.5,613 522.5,618.25" fill="none" stroke="#000" stroke-width="2" stroke-linejoin="miter"/>
<text x="504.125" y="614.5" font-size="15.5" text-anchor="middle" font-weight="normal" >*</text>
<polyline points="485.75,642.5 485.75,632 503.75,632 503.75,635.5" fill="none" stroke="#000" stroke-width="2" stroke-linejoin="miter"/>
<text x="494.75" y="634.5" font-size="15.5" text-anchor="middle" font-weight="normal" >*</text>
</svg>
</body></html>
